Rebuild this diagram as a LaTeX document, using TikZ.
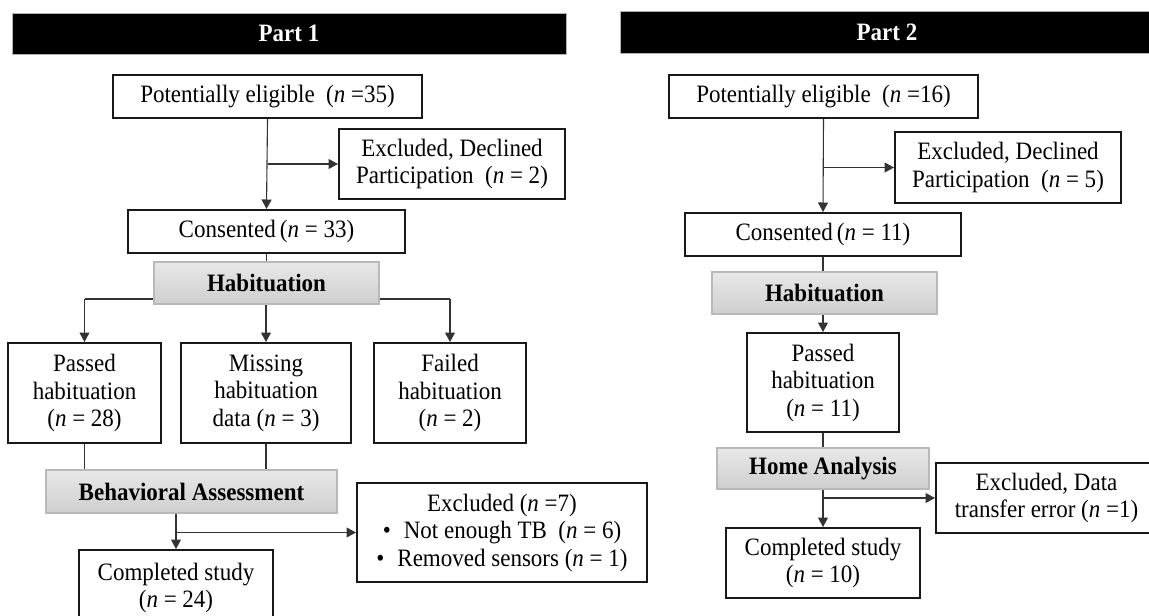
\documentclass[tikz,border=0pt]{standalone}
\usepackage{fontspec}
\setmainfont{Liberation Serif}[FakeStretch=0.92]
\usetikzlibrary{arrows.meta,backgrounds}
\tikzset{
  box/.style={draw=black!90, line width=2pt, fill=white, inner sep=0pt, align=center,
    font=\fontsize{25pt}{27.5pt}\selectfont},
  phase/.style={draw=gray!55, line width=1.2pt, top color=gray!18, bottom color=gray!38,
    inner sep=0pt, align=center, font=\fontsize{25pt}{27.5pt}\selectfont\bfseries},
  bar/.style={draw=gray!60, line width=1pt, fill=black, text=white, inner sep=0pt,
    font=\fontsize{25pt}{27.5pt}\selectfont\bfseries},
  conn/.style={draw=black!80, line width=1.1pt},
  arr/.style={conn, -{Triangle[length=9.5pt,width=10pt]}}
}
\newcommand{\nn}{\textit{n}}
\begin{document}
\begin{tikzpicture}[x=1pt,y=-1pt]
\useasboundingbox (0,0) rectangle (1149,616);
\begin{scope}
\clip (0,0) rectangle (1149,616);
% headers
\node[bar, minimum width=554pt, minimum height=41pt] (bar1) at (289,33.5) {Part 1};
\node[bar, minimum width=534pt, minimum height=42pt] (bar2) at (887,32) {Part 2};
% Part 1
\node[box, minimum width=309pt, minimum height=43pt] (pe1) at (267.5,96.5) {Potentially eligible\ \ (\nn{} =35)};
\node[box, minimum width=226pt, minimum height=70pt] (ex1) at (452,164) {Excluded, Declined\\Participation\ \ (\nn{} = 2)};
\node[box, minimum width=277pt, minimum height=43pt] (co1) at (266.5,231.5) {Consented\,(\nn{} = 33)};
\node[phase, minimum width=225pt, minimum height=42pt] (ha1) at (266.5,283) {Habituation};
\node[box, minimum width=153pt, minimum height=100pt] (pa1) at (84.5,393) {Passed\\habituation\\(\nn{} = 28)};
\node[box, minimum width=170pt, minimum height=100pt] (mi1) at (266,393) {Missing\\habituation\\data (\nn{} = 3)};
\node[box, minimum width=152pt, minimum height=100pt] (fa1) at (450,393) {Failed\\habituation\\(\nn{} = 2)};
\node[phase, minimum width=291pt, minimum height=43pt] (be1) at (191.5,491.5) {Behavioral Assessment};
\node[box, minimum width=290pt, minimum height=99pt] (ex7) at (502,532.5) {Excluded (\nn{} =7)\\\textbullet\hspace{13pt}Not enough TB\ \ (\nn{} = 6)\\\textbullet\hspace{13pt}Removed sensors (\nn{} = 1)};
\node[box, minimum width=194pt, minimum height=76pt] (cp1) at (176,588) {Completed study\\(\nn{} = 24)};
% Part 2
\node[box, minimum width=309pt, minimum height=43pt] (pe2) at (823.5,96.5) {Potentially eligible\ \ (\nn{} =16)};
\node[box, minimum width=226pt, minimum height=71pt] (ex2) at (1008,167.5) {Excluded, Declined\\Participation\ \ (\nn{} = 5)};
\node[box, minimum width=276pt, minimum height=43pt] (co2) at (823,234.5) {Consented\,(\nn{} = 11)};
\node[phase, minimum width=225pt, minimum height=42pt] (ha2) at (824.5,293) {Habituation};
\node[box, minimum width=152pt, minimum height=99pt] (pa2) at (823,382.5) {Passed\\habituation\\(\nn{} = 11)};
\node[phase, minimum width=212pt, minimum height=41pt] (ho2) at (823,468.5) {Home Analysis};
\node[box, minimum width=221pt, minimum height=70pt] (ed2) at (1046.5,498) {Excluded, Data\\transfer error (\nn{} =1)};
\node[box, minimum width=194pt, minimum height=70pt] (cp2) at (823,563) {Completed study\\(\nn{} = 10)};
% connectors
\begin{scope}[on background layer]
\coordinate (b1) at (pe1.south |- ex1.west);
\draw[arr] (pe1.south) -- (co1.north);
\draw[arr] (b1) -- (ex1.west);
\draw[conn] (co1.south) -- (ha1.north);
\coordinate (hy) at (0,299);
\draw[conn] (pa1.north |- hy) -- (fa1.north |- hy);
\draw[arr] (pa1.north |- hy) -- (pa1.north);
\draw[arr] (ha1.south -| mi1.north) -- (mi1.north);
\draw[arr] (fa1.north |- hy) -- (fa1.north);
\draw[conn] (pa1.south) -- (pa1.south |- be1.north);
\draw[conn] (mi1.south) -- (mi1.south |- be1.north);
\draw[arr] (be1.south -| cp1.north) -- (cp1.north);
\coordinate (b7) at (cp1.north |- ex7.west);
\draw[arr] (b7) -- (ex7.west);
\coordinate (b2) at (pe2.south |- ex2.west);
\draw[arr] (pe2.south) -- (co2.north);
\draw[arr] (b2) -- (ex2.west);
\draw[conn] (co2.south) -- (co2.south |- ha2.north);
\draw[arr] (ha2.south -| pa2.north) -- (pa2.north);
\draw[conn] (pa2.south) -- (pa2.south |- ho2.north);
\draw[arr] (ho2.south -| cp2.north) -- (cp2.north);
\coordinate (bd) at (cp2.north |- ed2.west);
\draw[arr] (bd) -- (ed2.west);
\end{scope}
\end{scope}
\end{tikzpicture}
\end{document}
